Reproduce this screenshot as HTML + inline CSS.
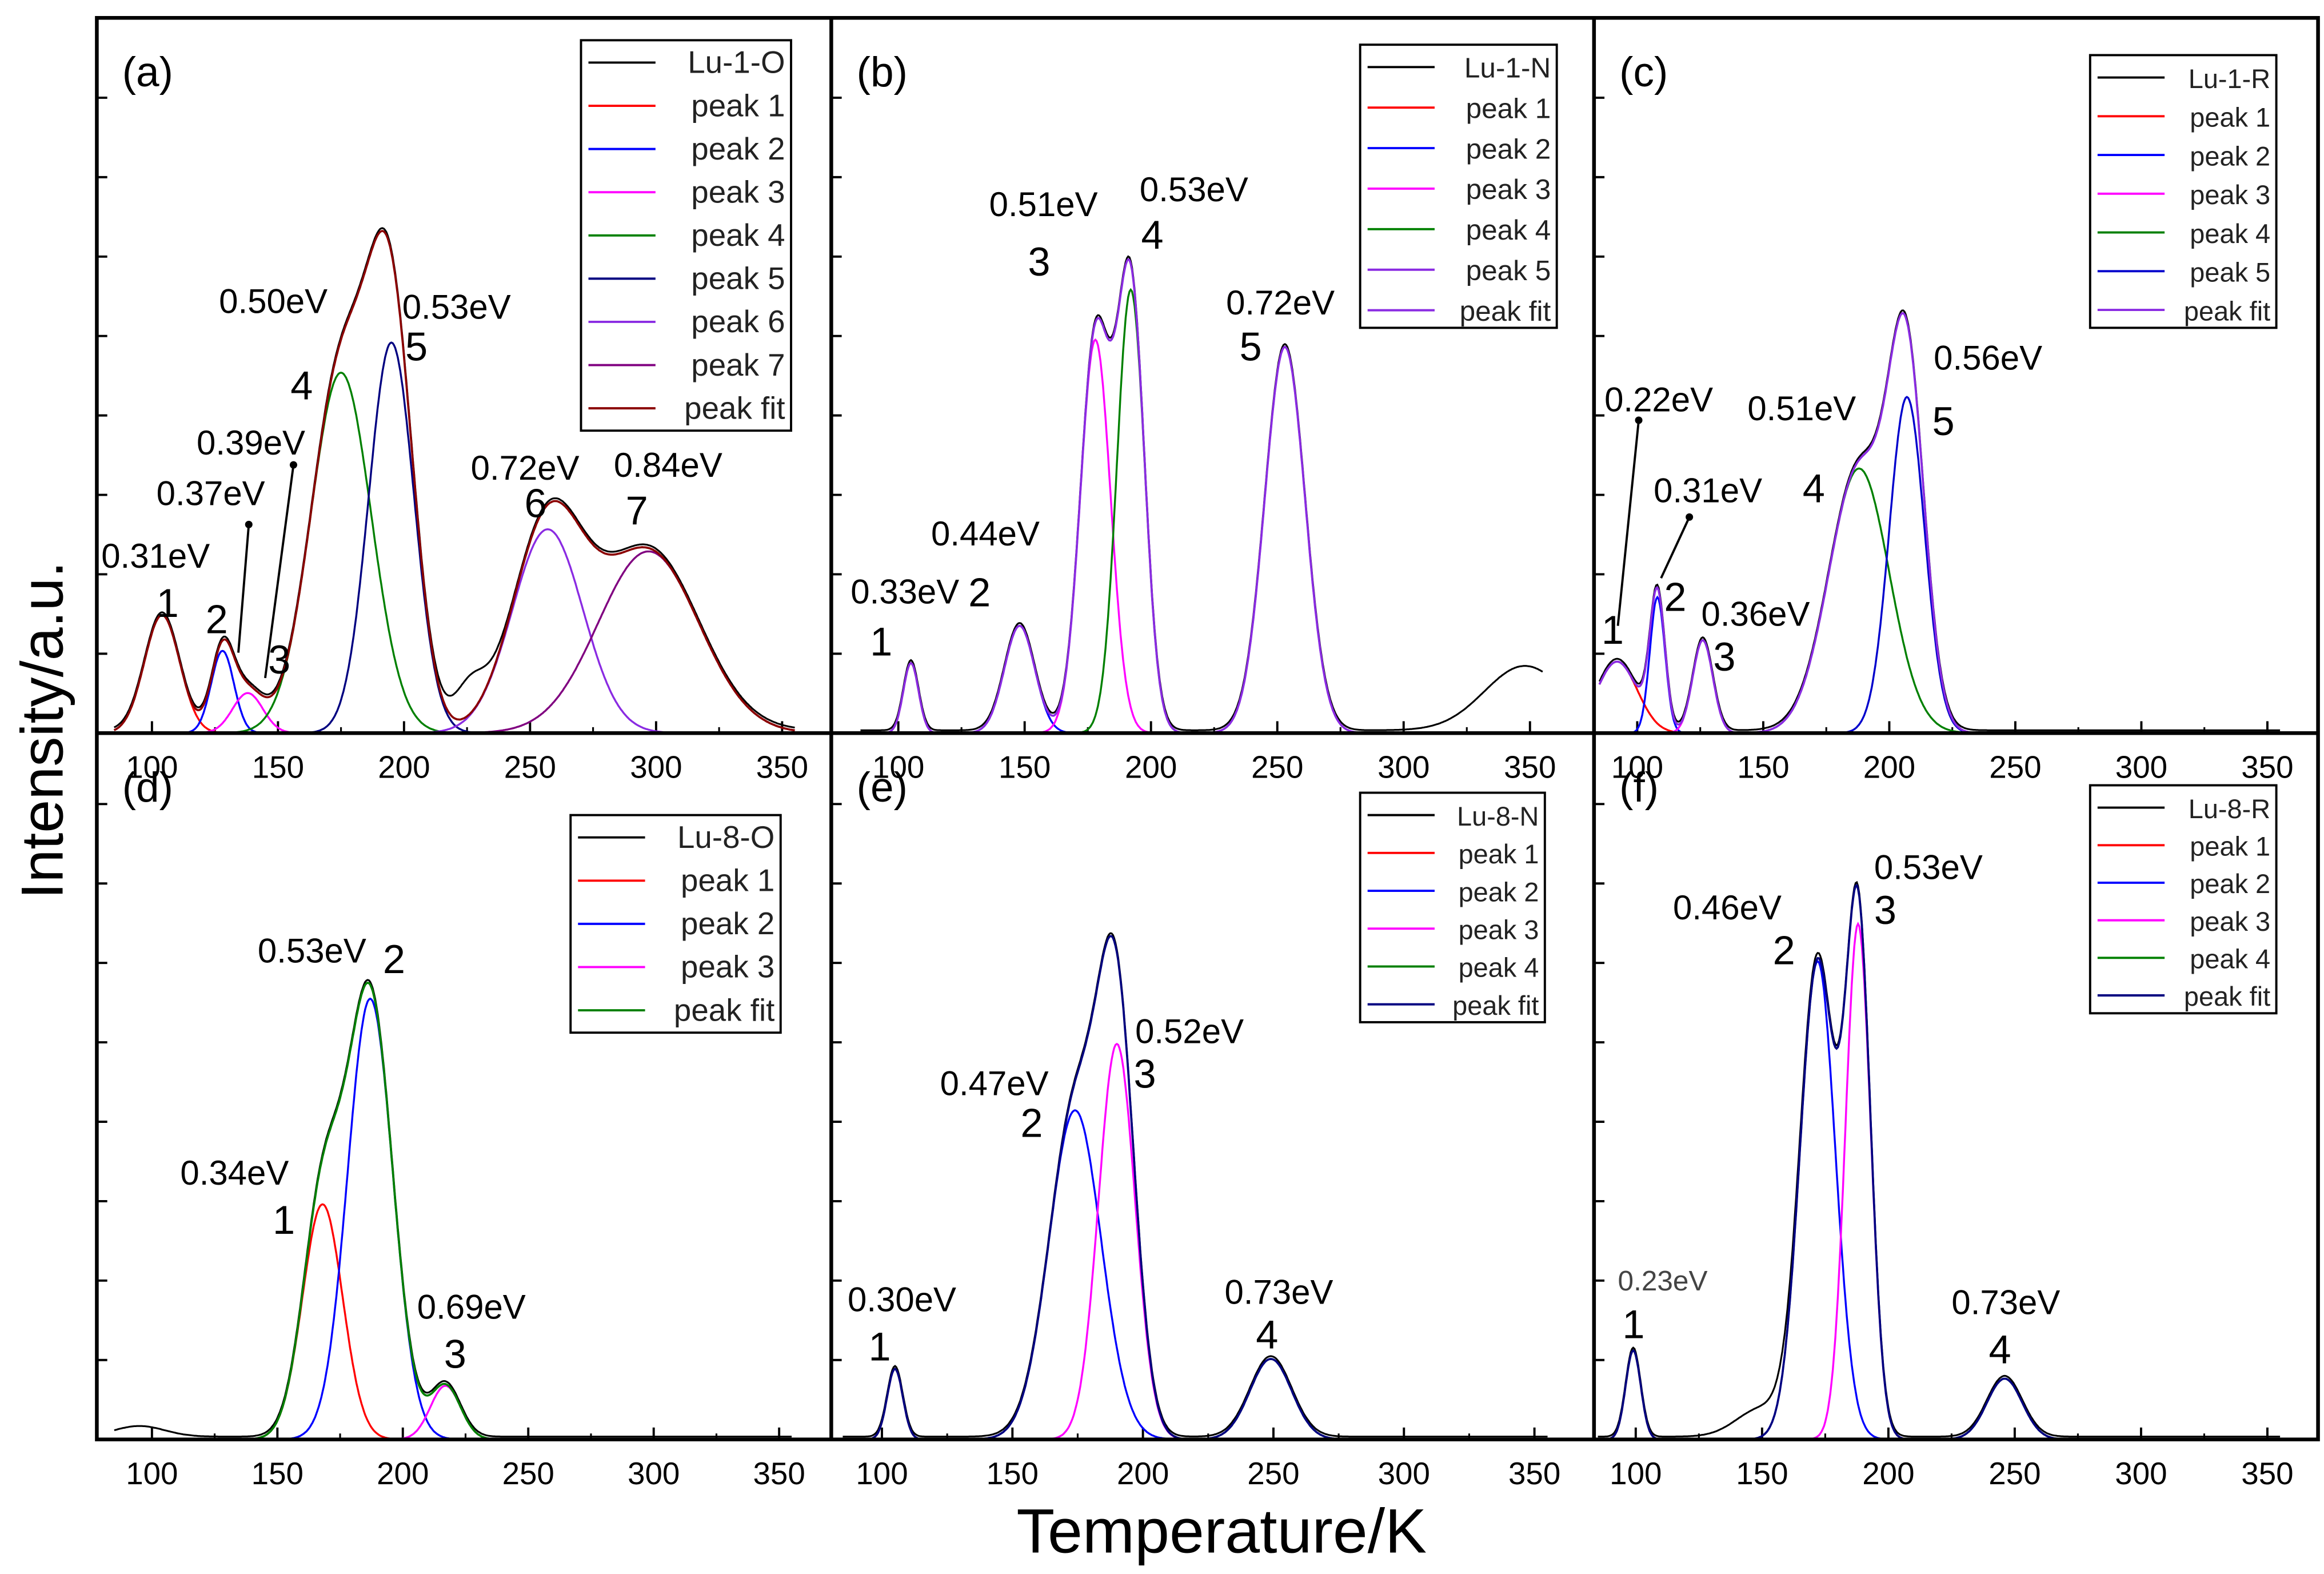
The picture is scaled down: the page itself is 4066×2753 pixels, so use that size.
<!DOCTYPE html>
<html><head><meta charset="utf-8"><style>
html,body{margin:0;padding:0;background:#fff;}
svg{display:block;font-family:"Liberation Sans",Arial,sans-serif;}
</style></head><body>
<svg id="fig" xmlns="http://www.w3.org/2000/svg" width="4066" height="2753" viewBox="0 0 1560 1056.3" preserveAspectRatio="none">
<rect width="1560" height="1057" fill="#fff"/>
<g id="plots"></g>
<rect x="65" y="12" width="1491" height="954" fill="none" stroke="#000" stroke-width="2.5"/>
<line x1="558" y1="12" x2="558" y2="966" stroke="#000" stroke-width="2.5"/>
<line x1="1070" y1="12" x2="1070" y2="966" stroke="#000" stroke-width="2.5"/>
<line x1="65" y1="492" x2="1556" y2="492" stroke="#000" stroke-width="2.5"/>
<text transform="translate(42,490) rotate(-90)" text-anchor="middle" font-size="40">Intensity/a.u.</text>
<text x="820" y="1042" text-anchor="middle" font-size="42">Temperature/K</text>
</svg>
<script>
// ---- data (K centre, normalized height, sigma K) ----
const xTicks=[100,150,200,250,300,350];
const aCenters=[104,128,138,175,195,257,297];
const aHeights=[0.165,0.115,0.056,0.504,0.546,0.285,0.254];
const aSigmas=[7,4.5,6,12,9,14,20];
const bCenters=[105,148,178,192,253];
const bHeights=[0.098,0.15,0.55,0.62,0.54];
const bSigmas=[3,6,6,5.5,8];
const cCenters=[92,108,126,188,207];
const cHeights=[0.1,0.19,0.13,0.37,0.47];
const cSigmas=[8,3,4,12,7];
const dCenters=[168,187,217];
const dHeights=[0.333,0.624,0.076];
const dSigmas=[8,9,6];
const eCenters=[105,174,190,249];
const eHeights=[0.1,0.466,0.56,0.114];
const eSigmas=[3,10,7,8];
const fCenters=[99,172,188,246];
const fHeights=[0.126,0.677,0.73,0.086];
const fSigmas=[3,7,5,7];
// extra measured bumps (centre, height, sigma)
const aExtra=[[226,0.05,6]];
const bExtra=[[348,0.09,16]];
const cExtra=[];
const dExtra=[[95,0.015,10]];
const eExtra=[];
const fExtra=[[150,0.04,10]];

const NS="http://www.w3.org/2000/svg";
const root=document.getElementById('plots');
function el(tag,attrs,parent){const e=document.createElementNS(NS,tag);for(const k in attrs)e.setAttribute(k,attrs[k]);(parent||root).appendChild(e);return e;}

const panels=[
 {id:'a',x0:65,x1:558,base:492,top:12,px100:102,px350:525,C:aCenters,H:aHeights,S:aSigmas,X:aExtra,
  colors:['#ff0000','#0000ff','#ff00ff','#008000','#000080','#8a2be2','#800080'],fit:'#8b0000',
  legend:{x:390,y:27,w:141,h:262,dy:29,names:['Lu-1-O','peak 1','peak 2','peak 3','peak 4','peak 5','peak 6','peak 7','peak fit'],fs:21},
  ann:[["0.31eV",68,381],["1",105,414],["2",138,425],["3",180,452],["0.37eV",105,339],["0.39eV",132,305],["4",195,268],["0.50eV",147,210],["0.53eV",270,214],["5",272,242],["0.72eV",316,322],["6",352,347],["0.84eV",412,320],["7",420,352]],
  arrows:[[160,438,167,352],[178,455,197,312]]},
 {id:'b',x0:558,x1:1070,base:492,top:12,px100:603,px350:1027,C:bCenters,H:bHeights,S:bSigmas,X:bExtra,
  colors:['#ff0000','#0000ff','#ff00ff','#008000','#8a2be2'],fit:'#8a2be2',
  legend:{x:913,y:30,w:132,h:190,dy:27.2,names:['Lu-1-N','peak 1','peak 2','peak 3','peak 4','peak 5','peak fit'],fs:19},
  ann:[["0.33eV",571,405],["2",650,407],["1",584,440],["0.44eV",625,366],["0.51eV",664,145],["3",690,185],["0.53eV",765,135],["4",766,167],["0.72eV",823,211],["5",832,242]],arrows:[]},
 {id:'c',x0:1070,x1:1556,base:492,top:12,px100:1099,px350:1522,C:cCenters,H:cHeights,S:cSigmas,X:cExtra,
  colors:['#ff0000','#0000ff','#ff00ff','#008000','#0000cc'],fit:'#8a2be2',
  legend:{x:1403,y:37,w:125,h:183,dy:26,names:['Lu-1-R','peak 1','peak 2','peak 3','peak 4','peak 5','peak fit'],fs:18},
  ann:[["0.22eV",1077,276],["0.31eV",1110,337],["2",1117,410],["1",1075,432],["0.36eV",1142,420],["3",1150,450],["0.51eV",1173,282],["4",1210,337],["0.56eV",1298,248],["5",1297,292]],
  arrows:[[1086,420,1100,282],[1115,388,1134,347]]},
 {id:'d',x0:65,x1:558,base:966,top:492,px100:102,px350:523,C:dCenters,H:dHeights,S:dSigmas,X:dExtra,
  colors:['#ff0000','#0000ff','#ff00ff'],fit:'#008000',
  legend:{x:383,y:547,w:141,h:146,dy:29,names:['Lu-8-O','peak 1','peak 2','peak 3','peak fit'],fs:21},
  ann:[["0.53eV",173,646],["2",257,653],["0.34eV",121,795],["1",183,828],["0.69eV",280,885],["3",298,918]],arrows:[]},
 {id:'e',x0:558,x1:1070,base:966,top:492,px100:592,px350:1030,C:eCenters,H:eHeights,S:eSigmas,X:eExtra,
  colors:['#ff0000','#0000ff','#ff00ff','#008000'],fit:'#000080',
  legend:{x:913,y:532,w:124,h:154,dy:25.4,names:['Lu-8-N','peak 1','peak 2','peak 3','peak 4','peak fit'],fs:18},
  ann:[["0.30eV",569,880],["1",583,913],["0.47eV",631,735],["2",685,763],["0.52eV",762,700],["3",761,730],["0.73eV",822,875],["4",843,905]],arrows:[]},
 {id:'f',x0:1070,x1:1556,base:966,top:492,px100:1098,px350:1522,C:fCenters,H:fHeights,S:fSigmas,X:fExtra,
  colors:['#ff0000','#0000ff','#ff00ff','#008000'],fit:'#000080',
  legend:{x:1403,y:527,w:125,h:153,dy:25.2,names:['Lu-8-R','peak 1','peak 2','peak 3','peak 4','peak fit'],fs:18},
  ann:[["0.23eV",1086,866],["1",1089,898],["0.46eV",1123,617],["2",1190,647],["0.53eV",1258,590],["3",1258,620],["0.73eV",1310,882],["4",1335,915]],arrows:[]}
];

panels.forEach(p=>{
  const g=el('g',{});
  
  
  const xs=k=>p.px100+(k-100)*(p.px350-p.px100)/250;
  const ys=v=>p.base-v*(p.base-p.top);
  const kMin=(p.x0+2-p.px100)*250/(p.px350-p.px100)+100;
  const kMax=(p.x1-2-p.px100)*250/(p.px350-p.px100)+100;
  const gauss=(i,k)=>p.H[i]*Math.exp(-((k-p.C[i])**2)/(2*p.S[i]*p.S[i]));
  const pathFor=f=>{let d='';for(let k=Math.max(kMin,85);k<=Math.min(kMax,355);k+=0.5){d+=(d?'L':'M')+xs(k).toFixed(1)+','+ys(f(k)).toFixed(1);}return d;};
  xTicks.forEach(t=>{
    const tx=xs(t);
    const tl=el('text',{x:tx,y:p.base+30,'text-anchor':'middle','font-size':21},g);
    tl.textContent=t;
    
    
    el('line',{x1:tx,y1:p.base,x2:tx,y2:p.base-8,stroke:'#000','stroke-width':1.5},g);
  });
  [125,175,225,275,325].forEach(t=>{el('line',{x1:xs(t),y1:p.base,x2:xs(t),y2:p.base-4,stroke:'#000','stroke-width':1.2},g);});
  for(let yy=p.base-53.3;yy>p.top+20;yy-=53.3){el('line',{x1:p.x0,y1:yy,x2:p.x0+7,y2:yy,stroke:'#000','stroke-width':1.5},g);}
  p.C.forEach((c,i)=>{
    const pk=el('path',{d:pathFor(k=>gauss(i,k)),fill:'none',stroke:p.colors[i],'stroke-width':1.3},g);
    
    
  });
  const sum=k=>{let s=0;for(let i=0;i<p.C.length;i++)s+=gauss(i,k);return s;};
  const meas=k=>{let s=sum(k);p.X.forEach(e=>{s+=e[1]*Math.exp(-((k-e[0])**2)/(2*e[2]*e[2]));});return s+0.004;};
  const ms=el('path',{d:pathFor(meas),fill:'none',stroke:'#000','stroke-width':1.2},g);
  
  
  const ft=el('path',{d:pathFor(sum),fill:'none',stroke:p.fit,'stroke-width':1.4},g);
  
  
  const pl=el('text',{x:p.x0+17,y:p.top+46,'font-size':28},g);
  pl.textContent='('+p.id+')';
  
  
  p.ann.forEach(a=>{
    const isNum=a[0].length<3;
    const small=(p.id==='f'&&a[0]==='0.23eV');
    const t=el('text',{x:a[1],y:a[2],'font-size':isNum?27:(small?19:23),fill:small?'#444':'#000'},g);
    t.textContent=a[0];
    
    
  });
  p.arrows.forEach(a=>{
    const ar=el('line',{x1:a[0],y1:a[1],x2:a[2],y2:a[3],stroke:'#000','stroke-width':1.5},g);
    
    
    el('circle',{cx:a[2],cy:a[3],r:2.5,fill:'#000'},g);
  });
  const L=p.legend;
  const lg=el('g',{},g);
  
  
  el('rect',{x:L.x,y:L.y,width:L.w,height:L.h,fill:'#fff',stroke:'#000','stroke-width':1.5},lg);
  const lcols=['#000'].concat(p.colors).concat([p.fit]);
  L.names.forEach((n,i)=>{
    const yy=L.y+15+i*L.dy;
    el('line',{x1:L.x+5,y1:yy,x2:L.x+50,y2:yy,stroke:lcols[i],'stroke-width':1.5},lg);
    const tt=el('text',{x:L.x+L.w-4,y:yy+7,'text-anchor':'end','font-size':L.fs,fill:'#222'},lg);
    tt.textContent=n;
    
    
  });
});
</script>
</body></html>
